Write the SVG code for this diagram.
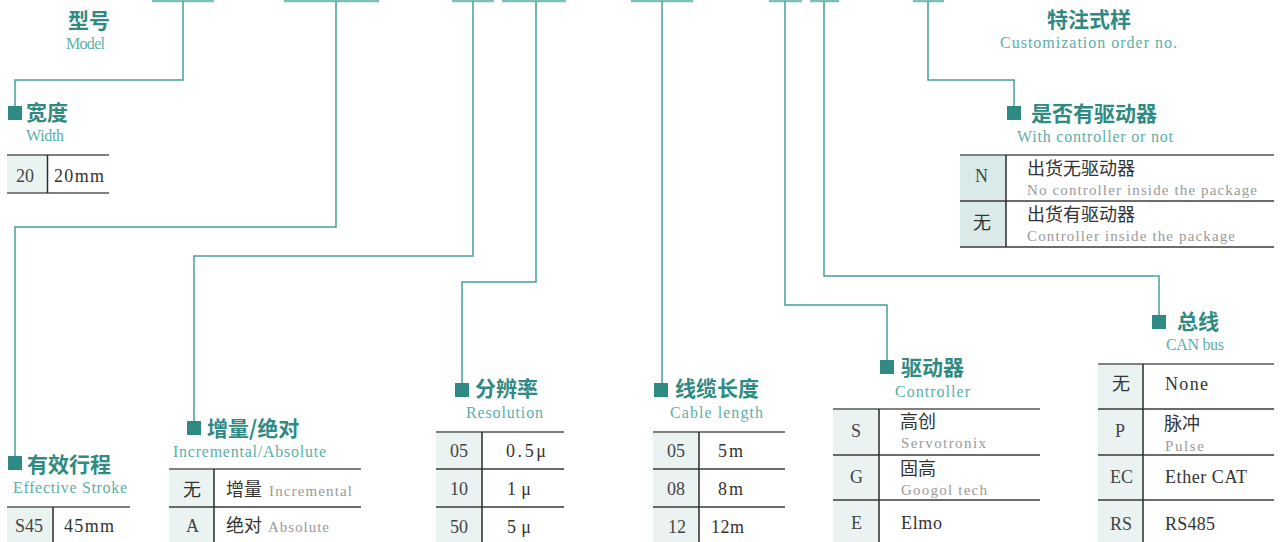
<svg xmlns="http://www.w3.org/2000/svg" width="1282" height="542" viewBox="0 0 1282 542">
<style>
.t{font-family:"Noto Sans CJK SC",sans-serif;font-weight:bold;font-size:21px;fill:#2e8a83}
.s{font-family:"Liberation Serif",serif;font-size:16px;fill:#5cafa7}
.sq{fill:#2e8a83}
.top{stroke:#808080;stroke-width:2}
.row{stroke:#3a3a3a;stroke-width:1.5}
.div{stroke:#2a2a2a;stroke-width:1.5}
.cell{fill:#ebf3f2}
.cell2{fill:#d9eae8}
.k{font-family:"Liberation Serif",serif;font-size:18px;fill:#444}
.v{font-family:"Liberation Serif",serif;font-size:18px;fill:#333}
.c{font-family:"Noto Sans CJK SC",sans-serif;font-size:18px;fill:#333}
.g{font-family:"Liberation Serif",serif;font-size:15px;fill:#9a9a9a}
.ln{fill:none;stroke:#4a9e97;stroke-width:1.5}
.bar{stroke:#7dbfb8;stroke-width:2.5}
</style>
<g id="connectors">
<line class="bar" x1="152" y1="1" x2="214" y2="1"/>
<line class="bar" x1="284" y1="1" x2="379" y2="1"/>
<line class="bar" x1="452" y1="1" x2="494" y2="1"/>
<line class="bar" x1="502" y1="1" x2="566" y2="1"/>
<line class="bar" x1="631" y1="1" x2="693" y2="1"/>
<line class="bar" x1="769" y1="1" x2="802" y2="1"/>
<line class="bar" x1="810" y1="1" x2="839" y2="1"/>
<line class="bar" x1="913" y1="1" x2="944" y2="1"/>
<path class="ln" d="M183 1V80H15V106"/>
<path class="ln" d="M336 1V227H15V456"/>
<path class="ln" d="M473 1V256H194V421"/>
<path class="ln" d="M536 1V282H462V383"/>
<path class="ln" d="M662 1V383"/>
<path class="ln" d="M785 1V305H887V360"/>
<path class="ln" d="M824 1V276H1159V315"/>
<path class="ln" d="M928 1V80H1014V106"/>
</g>
<g id="model">
<text class="t" x="68" y="27.5">型号</text>
<text class="s" x="66" y="49" textLength="39">Model</text>
</g>
<g id="custom">
<text class="t" x="1047" y="27">特注式样</text>
<text class="s" x="1000" y="48" textLength="177">Customization order no.</text>
</g>
<g id="width">
<rect class="sq" x="8" y="106" width="14" height="14"/>
<text class="t" x="26" y="119.5">宽度</text>
<text class="s" x="26" y="141" textLength="38">Width</text>
<rect class="cell" x="7" y="156" width="40" height="37"/>
<line class="top" x1="7" y1="155" x2="109" y2="155"/>
<line class="top" x1="7" y1="193" x2="109" y2="193"/>
<line class="div" x1="47.5" y1="155" x2="47.5" y2="193"/>
<text class="k" x="16" y="182">20</text>
<text class="v" x="54" y="182" textLength="50">20mm</text>
</g>
<g id="stroke">
<rect class="sq" x="8" y="456" width="14" height="14"/>
<text class="t" x="27" y="471.5">有效行程</text>
<text class="s" x="13" y="493" textLength="114">Effective Stroke</text>
<rect class="cell" x="7" y="508" width="46" height="34"/>
<line class="top" x1="7" y1="507" x2="130" y2="507"/>
<line class="div" x1="53" y1="507" x2="53" y2="542"/>
<text class="k" x="15" y="532">S45</text>
<text class="v" x="64" y="532" textLength="50">45mm</text>
</g>
<g id="incremental">
<rect class="sq" x="187" y="421" width="14" height="14"/>
<text class="t" x="207" y="435.5">增量/绝对</text>
<text class="s" x="173" y="457" textLength="153">Incremental/Absolute</text>
<rect class="cell" x="169" y="470" width="45" height="72"/>
<line class="top" x1="169" y1="469" x2="361" y2="469"/>
<line class="row" x1="169" y1="507" x2="361" y2="507"/>
<line class="div" x1="214" y1="469" x2="214" y2="542"/>
<text class="c" x="183" y="496">无</text>
<text class="c" x="226" y="496">增量</text>
<text class="g" x="269" y="496" textLength="83">Incremental</text>
<text class="k" x="186" y="532">A</text>
<text class="c" x="226" y="532">绝对</text>
<text class="g" x="268" y="532" textLength="61">Absolute</text>
</g>
<g id="resolution">
<rect class="sq" x="455" y="383" width="14" height="14"/>
<text class="t" x="475" y="395.5">分辨率</text>
<text class="s" x="466" y="418" textLength="77">Resolution</text>
<rect class="cell" x="436" y="433" width="46" height="109"/>
<line class="top" x1="436" y1="432" x2="564" y2="432"/>
<line class="row" x1="436" y1="469" x2="564" y2="469"/>
<line class="row" x1="436" y1="507" x2="564" y2="507"/>
<line class="div" x1="482" y1="432" x2="482" y2="542"/>
<text class="k" x="450" y="457">05</text>
<text class="v" x="506" y="457" textLength="40">0.5μ</text>
<text class="k" x="450" y="495">10</text>
<text class="v" x="507" y="495" textLength="24">1μ</text>
<text class="k" x="450" y="533">50</text>
<text class="v" x="507" y="533" textLength="24">5μ</text>
</g>
<g id="cable">
<rect class="sq" x="654" y="383" width="14" height="14"/>
<text class="t" x="675" y="395.5">线缆长度</text>
<text class="s" x="670" y="418" textLength="93">Cable length</text>
<rect class="cell" x="653" y="433" width="46" height="109"/>
<line class="top" x1="653" y1="432" x2="785" y2="432"/>
<line class="row" x1="653" y1="469" x2="785" y2="469"/>
<line class="row" x1="653" y1="507" x2="785" y2="507"/>
<line class="div" x1="699" y1="432" x2="699" y2="542"/>
<text class="k" x="667" y="457">05</text>
<text class="v" x="718" y="457" textLength="25">5m</text>
<text class="k" x="667" y="495">08</text>
<text class="v" x="718" y="495" textLength="25">8m</text>
<text class="k" x="668" y="533">12</text>
<text class="v" x="711" y="533" textLength="33">12m</text>
</g>
<g id="controller">
<rect class="sq" x="880" y="360" width="14" height="14"/>
<text class="t" x="901" y="374.5">驱动器</text>
<text class="s" x="895" y="397" textLength="75">Controller</text>
<rect class="cell" x="833" y="410" width="46" height="132"/>
<line class="top" x1="833" y1="409" x2="1040" y2="409"/>
<line class="row" x1="833" y1="455" x2="1040" y2="455"/>
<line class="row" x1="833" y1="500" x2="1040" y2="500"/>
<line class="div" x1="879" y1="409" x2="879" y2="542"/>
<text class="k" x="851" y="437">S</text>
<text class="c" x="900" y="428">高创</text>
<text class="g" x="901" y="448" textLength="85">Servotronix</text>
<text class="k" x="850" y="483">G</text>
<text class="c" x="900" y="475">固高</text>
<text class="g" x="901" y="495" textLength="86">Googol tech</text>
<text class="k" x="851" y="529">E</text>
<text class="v" x="901" y="529" textLength="41">Elmo</text>
</g>
<g id="bus">
<rect class="sq" x="1152" y="315" width="14" height="14"/>
<text class="t" x="1177" y="328.5">总线</text>
<text class="s" x="1166" y="350" textLength="58">CAN bus</text>
<rect class="cell" x="1098" y="365" width="45" height="177"/>
<line class="top" x1="1098" y1="364" x2="1274" y2="364"/>
<line class="row" x1="1098" y1="409" x2="1274" y2="409"/>
<line class="row" x1="1098" y1="455" x2="1274" y2="455"/>
<line class="row" x1="1098" y1="500" x2="1274" y2="500"/>
<line class="div" x1="1143" y1="364" x2="1143" y2="542"/>
<text class="c" x="1112" y="390">无</text>
<text class="v" x="1165" y="390" textLength="43">None</text>
<text class="k" x="1115" y="437">P</text>
<text class="c" x="1164" y="430">脉冲</text>
<text class="g" x="1165" y="451" textLength="39">Pulse</text>
<text class="k" x="1110" y="483">EC</text>
<text class="v" x="1165" y="483" textLength="82">Ether CAT</text>
<text class="k" x="1110" y="530">RS</text>
<text class="v" x="1165" y="530" textLength="50">RS485</text>
</g>
<g id="withcontroller">
<rect class="sq" x="1007" y="106" width="14" height="14"/>
<text class="t" x="1031" y="120.5">是否有驱动器</text>
<text class="s" x="1017" y="142" textLength="156">With controller or not</text>
<rect class="cell2" x="960" y="156" width="46" height="91"/>
<line class="top" x1="960" y1="155" x2="1274" y2="155"/>
<line class="row" x1="960" y1="201" x2="1274" y2="201"/>
<line class="row" x1="960" y1="247" x2="1274" y2="247"/>
<line class="div" x1="1006" y1="155" x2="1006" y2="247"/>
<text class="k" x="975" y="182">N</text>
<text class="c" x="1027" y="175">出货无驱动器</text>
<text class="g" x="1027" y="195" textLength="230">No controller inside the package</text>
<text class="c" x="973" y="229">无</text>
<text class="c" x="1027" y="221">出货有驱动器</text>
<text class="g" x="1027" y="241" textLength="208">Controller inside the package</text>
</g>
</svg>
